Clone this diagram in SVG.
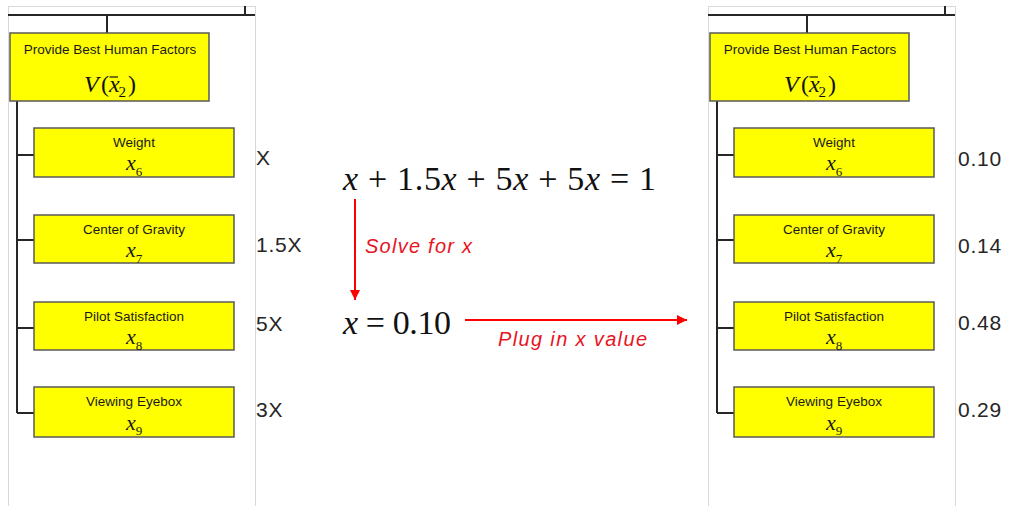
<svg xmlns="http://www.w3.org/2000/svg" width="1009" height="506" viewBox="0 0 1009 506">
<style>
.panel{fill:#fff;stroke:#d9d9d9;stroke-width:1}
.bar{stroke:#262626;stroke-width:2;fill:none}
.box{fill:#ffff00;stroke:#595959;stroke-width:1.5}
.lbl{font-family:"Liberation Sans",Arial,sans-serif;font-size:13.5px;fill:#1a1a1a;text-anchor:middle}
.var{font-family:"Liberation Serif","Times New Roman",serif;font-style:italic;font-size:22px;fill:#1a1a1a}
.sub{font-family:"Liberation Serif","Times New Roman",serif;font-size:13px;fill:#1a1a1a}
.wt{font-family:"Liberation Sans",Arial,sans-serif;font-size:21px;fill:#262626;letter-spacing:0.8px}
.math{font-family:"Liberation Serif","Times New Roman",serif;font-size:34px;fill:#111}
.it{font-style:italic}
.red{stroke:#ff0000;stroke-width:2;fill:none}
.rtxt{font-family:"Liberation Sans",Arial,sans-serif;font-style:italic;font-size:20px;fill:#e8141e}
</style>
<defs>
<marker id="ah" viewBox="0 0 10 10" refX="10" refY="5" markerWidth="5" markerHeight="7" orient="auto" markerUnits="strokeWidth">
<path d="M0,0 L10,5 L0,10 z" fill="#ff0000"/>
</marker>
</defs>
<rect width="1009" height="506" fill="#fff"/>

<g id="panel-left">
<rect class="panel" x="8.5" y="6.5" width="247" height="510"/>
</g>
<g id="panel-right">
<rect class="panel" x="708.5" y="6.5" width="247" height="510"/>
</g>

<g id="connectors">
<path class="bar" d="M8,15 H255 M245,6 V15 M107,15 V33"/>
<path class="bar" d="M17,101 V413 M17,155 H34 M17,240 H34 M17,328 H34 M17,413 H34"/>
<path class="bar" d="M708,15 H955 M945,6 V15 M807,15 V33"/>
<path class="bar" d="M717,101 V413 M717,155 H734 M717,240 H734 M717,328 H734 M717,413 H734"/>
<line class="red" x1="355" y1="199" x2="355" y2="300" marker-end="url(#ah)"/>
<line class="red" x1="465" y1="320" x2="687" y2="320" marker-end="url(#ah)"/>
</g>

<g id="node-top-left">
<rect class="box" x="10" y="33" width="199" height="68"/>
<text class="lbl" x="110" y="54">Provide Best Human Factors</text>
<text class="math" style="font-size:24px"><tspan class="it" x="84" y="92">V</tspan><tspan x="101" y="92">(</tspan><tspan class="it" x="109" y="92">x</tspan><tspan x="118.5" y="97" style="font-size:15px">2</tspan><tspan x="128" y="92">)</tspan></text>
<line x1="109.5" y1="77" x2="118" y2="77" stroke="#111" stroke-width="1.2"/>
</g>
<g id="node-weight-left">
<rect class="box" x="34" y="128" width="200" height="49"/>
<text class="lbl" x="134" y="147">Weight</text>
<text x="126" y="170"><tspan class="var">x</tspan><tspan class="sub" dy="6">6</tspan></text>
</g>
<g id="node-cog-left">
<rect class="box" x="34" y="215" width="200" height="48"/>
<text class="lbl" x="134" y="234">Center of Gravity</text>
<text x="126" y="257"><tspan class="var">x</tspan><tspan class="sub" dy="6">7</tspan></text>
</g>
<g id="node-pilot-left">
<rect class="box" x="34" y="302" width="200" height="48"/>
<text class="lbl" x="134" y="321">Pilot Satisfaction</text>
<text x="126" y="344"><tspan class="var">x</tspan><tspan class="sub" dy="6">8</tspan></text>
</g>
<g id="node-eyebox-left">
<rect class="box" x="34" y="387" width="200" height="50"/>
<text class="lbl" x="134" y="406">Viewing Eyebox</text>
<text x="126" y="430"><tspan class="var">x</tspan><tspan class="sub" dy="5">9</tspan></text>
</g>

<g id="node-top-right">
<rect class="box" x="710" y="33" width="199" height="68"/>
<text class="lbl" x="810" y="54">Provide Best Human Factors</text>
<text class="math" style="font-size:24px"><tspan class="it" x="784" y="92">V</tspan><tspan x="801" y="92">(</tspan><tspan class="it" x="809" y="92">x</tspan><tspan x="818.5" y="97" style="font-size:15px">2</tspan><tspan x="828" y="92">)</tspan></text>
<line x1="809.5" y1="77" x2="818" y2="77" stroke="#111" stroke-width="1.2"/>
</g>
<g id="node-weight-right">
<rect class="box" x="734" y="128" width="200" height="49"/>
<text class="lbl" x="834" y="147">Weight</text>
<text x="826" y="170"><tspan class="var">x</tspan><tspan class="sub" dy="6">6</tspan></text>
</g>
<g id="node-cog-right">
<rect class="box" x="734" y="215" width="200" height="48"/>
<text class="lbl" x="834" y="234">Center of Gravity</text>
<text x="826" y="257"><tspan class="var">x</tspan><tspan class="sub" dy="6">7</tspan></text>
</g>
<g id="node-pilot-right">
<rect class="box" x="734" y="302" width="200" height="48"/>
<text class="lbl" x="834" y="321">Pilot Satisfaction</text>
<text x="826" y="344"><tspan class="var">x</tspan><tspan class="sub" dy="6">8</tspan></text>
</g>
<g id="node-eyebox-right">
<rect class="box" x="734" y="387" width="200" height="50"/>
<text class="lbl" x="834" y="406">Viewing Eyebox</text>
<text x="826" y="430"><tspan class="var">x</tspan><tspan class="sub" dy="5">9</tspan></text>
</g>

<g id="weights-left">
<text class="wt" x="256" y="165">X</text>
<text class="wt" x="256" y="252">1.5X</text>
<text class="wt" x="256" y="331">5X</text>
<text class="wt" x="256" y="417">3X</text>
</g>
<g id="weights-right">
<text class="wt" x="958" y="166">0.10</text>
<text class="wt" x="958" y="253">0.14</text>
<text class="wt" x="958" y="330">0.48</text>
<text class="wt" x="958" y="417">0.29</text>
</g>

<g id="equations">
<text class="math" x="343" y="190" textLength="313" lengthAdjust="spacing"><tspan class="it">x</tspan> + 1.5<tspan class="it">x</tspan> + 5<tspan class="it">x</tspan> + 5<tspan class="it">x</tspan> = 1</text>
<text class="math" x="343" y="334" textLength="108" lengthAdjust="spacing"><tspan class="it">x</tspan> = 0.10</text>
<text class="rtxt" x="365" y="253" textLength="107" lengthAdjust="spacing">Solve for x</text>
<text class="rtxt" x="498" y="346" textLength="149" lengthAdjust="spacing">Plug in x value</text>
</g>
</svg>
